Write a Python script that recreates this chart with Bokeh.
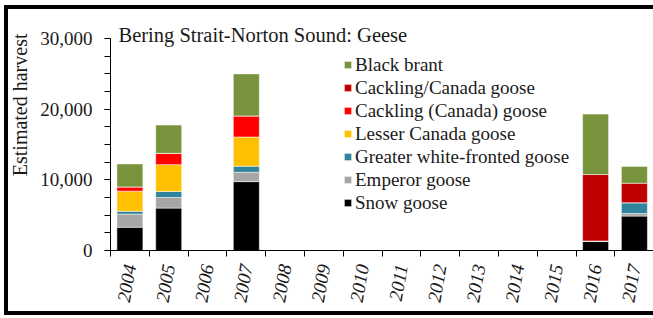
import math
from bokeh.plotting import figure
from bokeh.models import (Range1d, FixedTicker, NumeralTickFormatter, Legend, LegendItem,
                          Title, ColumnDataSource)
from bokeh.embed import file_html
from bokeh.resources import INLINE

years = list(range(2004, 2018))
year_labels = [str(y) for y in years]
snow_goose = [3300, 6000, 0, 9750, 0, 0, 0, 0, 0, 0, 0, 0, 1350, 4870]
emperor_goose = [1850, 1500, 0, 1320, 0, 0, 0, 0, 0, 0, 0, 0, 0, 370]
greater_white_fronted = [400, 850, 0, 860, 0, 0, 0, 0, 0, 0, 0, 0, 0, 1530]
lesser_canada = [2850, 3800, 0, 4130, 0, 0, 0, 0, 0, 0, 0, 0, 0, 0]
cackling_paren_canada = [600, 1600, 0, 2990, 0, 0, 0, 0, 0, 0, 0, 0, 0, 0]
cackling_slash_canada = [0, 0, 0, 0, 0, 0, 0, 0, 0, 0, 0, 0, 9400, 2750]
black_brant = [3250, 4000, 0, 5940, 0, 0, 0, 0, 0, 0, 0, 0, 8550, 2380]

series_keys = ["snow", "emperor", "gwfg", "lesser", "cack_p", "cack_s", "brant"]
series_names = ["Snow goose", "Emperor goose", "Greater white-fronted goose",
                "Lesser Canada goose", "Cackling (Canada) goose", "Cackling/Canada goose",
                "Black brant"]
series_colors = ["#000000", "#A6A6A6", "#31849B", "#FFC000", "#FF0000", "#C00000", "#77933C"]

source = ColumnDataSource(dict(
    year=years, snow=snow_goose, emperor=emperor_goose, gwfg=greater_white_fronted,
    lesser=lesser_canada, cack_p=cackling_paren_canada, cack_s=cackling_slash_canada,
    brant=black_brant))

W, H = 653, 318
LEFT, TOP, BOTTOM = 108, 38, 68
frame_w = W - LEFT
cat_px = 38.95

p = figure(width=W, height=H, output_backend="svg", toolbar_location=None,
           x_range=Range1d(2003.5, 2003.5 + frame_w / cat_px), y_range=Range1d(0, 30000))
p.min_border_left = LEFT
p.min_border_right = 0
p.min_border_top = TOP
p.min_border_bottom = BOTTOM
p.outline_line_color = None
p.xgrid.visible = False
p.ygrid.visible = False
p.background_fill_color = "white"
p.border_fill_alpha = 0
p.styles = {
    "background": ("linear-gradient(#000,#000) 4px 5px / 4px 310px no-repeat, "
                   "linear-gradient(#000,#000) 4px 5px / 649px 4px no-repeat, "
                   "linear-gradient(#000,#000) 4px 311px / 649px 4px no-repeat, white"),
}

renderers = p.vbar_stack(series_keys, x="year", width=0.67, color=series_colors,
                         line_color="white", line_width=0.5, source=source)

SERIF = "Liberation Serif"
TXT = "#1a1a1a"

# y axis
ya = p.yaxis[0]
ya.ticker = FixedTicker(ticks=[0, 10000, 20000, 30000],
                        minor_ticks=[i * 2500 for i in range(13)])
ya.formatter = NumeralTickFormatter(format="0,0")
ya.major_label_text_font = SERIF
ya.major_label_text_font_size = "19px"
ya.major_label_text_color = TXT
ya.major_tick_in = 0
ya.major_tick_out = 6
ya.minor_tick_in = 0
ya.minor_tick_out = 6
ya.major_label_standoff = 12
ya.axis_line_color = "black"

# x axis
xa = p.xaxis[0]
xa.ticker = FixedTicker(ticks=years, minor_ticks=[y - 0.5 for y in years] + [years[-1] + 0.5])
xa.major_label_overrides = {y: s for y, s in zip(years, year_labels)}
xa.major_label_orientation = math.radians(80)
xa.major_label_text_font = SERIF
xa.major_label_text_font_size = "19px"
xa.major_label_text_font_style = "italic"
xa.major_label_text_color = TXT
xa.major_tick_in = 0
xa.major_tick_out = 0
xa.minor_tick_in = 0
xa.minor_tick_out = 6
xa.major_label_standoff = 8

# legend (reverse order)
items = [LegendItem(label=n, renderers=[r]) for n, r in zip(series_names, renderers)][::-1]
legend = Legend(items=items, location=(233, 36), orientation="vertical")
legend.label_text_font = SERIF
legend.label_text_font_size = "19px"
legend.label_text_color = TXT
legend.glyph_width = 9
legend.glyph_height = 9
legend.label_height = 23
legend.label_standoff = 3
legend.spacing = 0
legend.padding = 0
legend.margin = 0
legend.border_line_color = None
legend.background_fill_alpha = 0
p.add_layout(legend)

# chart title (inside the top-left of the plot)
p.add_layout(Title(text="Bering Strait-Norton Sound: Geese", align="left", offset=8,
                   standoff=-15, text_font=SERIF, text_font_size="20.5px",
                   text_font_style="normal", text_color=TXT), "above")
# y axis title
p.add_layout(Title(text="Estimated harvest", align="right", offset=-5, standoff=13,
                   text_font=SERIF, text_font_size="20px", text_font_style="normal",
                   text_color=TXT), "left")

open("out.html", "w").write(file_html(p, INLINE))
